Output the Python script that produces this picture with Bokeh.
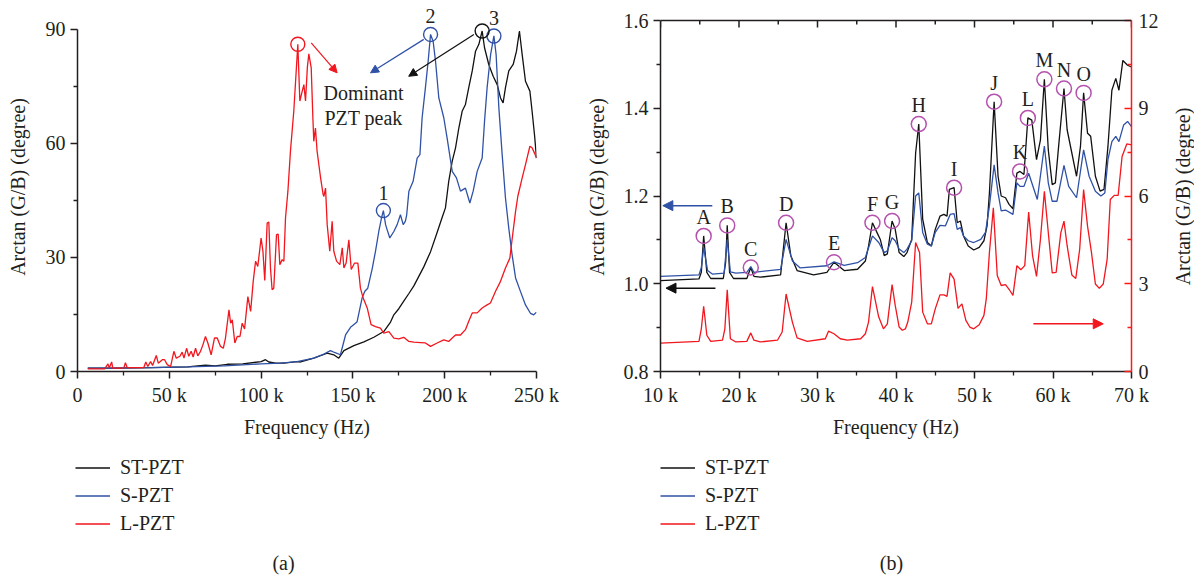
import math
from bokeh.plotting import figure
from bokeh.layouts import row, column
from bokeh.models import (Range1d, LinearAxis, FixedTicker, CustomJSTickFormatter,
                          Legend, LegendItem, Label, LabelSet, Arrow, NormalHead,
                          ColumnDataSource, Span)
from bokeh.embed import file_html
from bokeh.resources import INLINE

# ---------------- data: panel (a) ----------------
a_st_freq = [5.6, 20, 40, 60, 69.7, 75, 81.6, 90, 100, 102.4, 104.2, 108, 112.4, 119.6, 121.5,
             128.7, 136.0, 139.6, 142.3, 145.1, 150.5, 156.0, 161.4, 166.8, 170.5, 172.3, 175.0,
             177.7, 180.5, 183.2, 185.9, 188.6, 192.3, 195.5, 198.6, 200.4, 202.2, 204.1, 205.9,
             207.7, 209.5, 211.3, 213.1, 215.0, 216.8, 218.6, 220.4, 221.7, 224.0, 226.4, 228.6,
             230.4, 231.8, 233.1, 234.9, 237.3, 239.1, 240.7, 242.2, 244.0, 246.4, 247.6, 248.9, 250.0]
a_st_val = [0.9, 0.9, 1.0, 1.2, 1.7, 1.5, 1.9, 2.0, 2.6, 3.1, 2.5, 2.2, 2.2, 2.6, 2.5,
            3.5, 4.8, 4.4, 3.5, 5.5, 6.8, 7.8, 9.0, 10.5, 13.0, 14.9, 16.5,
            18.5, 20.5, 22.5, 25.0, 27.5, 31.5, 36.0, 40.5, 43.0, 50.0, 55.3, 58.8,
            64.0, 68.4, 70.2, 74.6, 79.0, 84.2, 86.0, 89.5, 85.1, 80.7, 77.6, 75.4,
            71.9, 70.6, 74.6, 79.0, 80.7, 84.2, 89.5, 83.3, 76.3, 73.7, 68.4, 62.3, 56.1]

a_s_freq = [5.6, 20, 40, 60, 80, 100, 110.6, 119.6, 128.7, 134.2, 137.8, 140, 143.2, 146.0, 148.7,
            151.4, 152.3, 155.0, 156.5, 158.1, 160.5, 162.3, 164.1, 165.6, 166.6, 167.8, 168.5,
            170.1, 172.3, 174.1, 175.9, 177.4, 178.6, 179.3, 180.5, 182.8, 185.0, 186.5, 187.7,
            189.5, 191.0, 192.3, 193.7, 195.0, 196.8, 199.5, 201.3, 204.1, 206.4, 208.6, 211.3,
            213.7, 215.5, 217.7, 220.4, 221.7, 223.1, 225.0, 226.8, 228.0, 229.5, 231.3, 233.1,
            234.9, 236.7, 238.6, 241.3, 244.0, 246.7, 248.5, 250.0]
a_s_val = [0.9, 0.9, 1.0, 1.2, 1.5, 2.0, 2.2, 2.6, 3.5, 4.6, 5.5, 5.0, 4.4, 9.6, 11.6,
           12.7, 13.1, 19.3, 21.1, 21.9, 27.0, 31.6, 36.8, 40.4, 42.3, 38.6, 37.5,
           35.1, 36.8, 38.6, 41.2, 38.6, 39.5, 41.2, 47.4, 50.0, 56.1, 57.0, 66.7,
           74.6, 81.6, 88.6, 86.8, 81.6, 71.9, 66.7, 61.4, 52.6, 50.9, 47.4, 48.2,
           44.3, 47.4, 52.6, 56.1, 65.8, 74.6, 83.3, 88.2, 83.3, 69.3, 57.0, 45.6,
           37.7, 30.7, 24.6, 21.0, 17.5, 15.3, 14.9, 15.6]

a_l_freq = [5.6, 10, 14.8, 16.6, 17.3, 18.6, 19.2, 25.2, 26.1, 27.1, 36.1, 37.2, 38.3, 39.8, 40.9,
            42.9, 44.0, 46.2, 47.4, 48.9, 50.7, 52.5, 53.8, 55.8, 57.0, 58.0, 59.4, 60.6, 61.9,
            63.0, 64.3, 65.5, 67.0, 68.3, 69.7, 71.0, 72.8, 74.6, 76.1, 77.9, 79.4, 80.6, 82.5,
            83.4, 84.3, 85.7, 87.0, 88.5, 89.7, 91.0, 92.8, 94.3, 95.7, 97.0, 98.2, 100.0, 101.0,
            102.0, 103.3, 104.2, 105.1, 106.0, 106.9, 108.4, 109.3, 110.2, 111.5, 112.4, 113.3,
            114.6, 116.0, 117.8, 119.0, 120.0, 121.1, 122.4, 123.3, 124.2, 125.2, 126.0, 127.3,
            128.2, 128.7, 129.6, 130.5, 132.4, 133.8, 134.2, 135.1, 136.0, 137.4, 138.7, 139.6,
            141.1, 142.9, 144.2, 145.1, 146.3, 147.8, 149.1, 150.9, 152.7, 154.1, 155.6, 157.8,
            159.9, 162.3, 165.0, 166.8, 169.6, 172.3, 175.0, 177.7, 180.5, 183.2, 186.8, 189.5,
            192.3, 195.9, 199.5, 202.2, 204.1, 205.9, 208.6, 211.3, 213.1, 215.0, 217.7, 220.4,
            223.1, 224.9, 227.7, 230.4, 233.1, 235.5, 236.8, 238.6, 239.8, 242.2, 244.0, 246.4,
            247.6, 248.9, 250.0]
a_l_val = [0.7, 0.7, 0.7, 2.0, 0.9, 2.5, 0.9, 0.9, 2.3, 1.0, 1.0, 2.5, 1.3, 2.6, 1.6,
           4.2, 2.2, 3.1, 3.1, 1.8, 1.3, 5.3, 3.5, 4.0, 5.1, 3.5, 6.1, 4.0, 5.3,
           3.8, 6.1, 4.1, 5.3, 7.0, 9.2, 7.5, 4.4, 8.8, 8.8, 6.6, 6.1, 8.8, 16.2,
           12.7, 13.6, 7.5, 9.2, 9.2, 12.7, 11.2, 19.7, 15.8, 23.7, 29.0, 27.6, 35.1, 31.6,
           23.9, 39.0, 39.3, 27.2, 21.5, 21.9, 36.0, 36.1, 28.1, 29.4, 29.0, 40.4,
           47.4, 58.0, 68.4, 78.0, 86.0, 71.1, 73.7, 75.4, 71.1, 80.0, 83.5, 79.8,
           66.7, 60.5, 64.0, 57.9, 50.9, 46.5, 46.0, 48.2, 38.6, 31.6, 39.5, 31.6,
           29.0, 28.1, 32.5, 27.2, 28.5, 34.6, 26.8, 28.5, 28.5, 21.9, 19.3, 16.7,
           12.3, 11.8, 11.4, 10.1, 10.5, 8.8, 8.6, 9.0, 7.9, 7.7, 7.6, 7.5,
           6.6, 7.5, 8.3, 7.9, 8.8, 9.6, 9.6, 11.0, 13.2, 15.4, 15.4, 16.7,
           17.5, 18.0, 21.1, 23.7, 27.2, 29.8, 35.1, 42.1, 46.0, 50.9, 54.4, 59.2,
           58.8, 57.4, 56.1]

a_x_ticks = [0, 50, 100, 150, 200, 250]
a_x_minor = [25, 75, 125, 175, 225]
a_y_ticks = [0, 30, 60, 90]
a_y_minor = [15, 45, 75]

a_l_marks = [120.0]
a_s_marks = [166.6, 192.3, 226.8]
a_s_mark_text = ["1", "2", "3"]
a_st_marks = [220.4]

# ---------------- data: panel (b) ----------------
b_st_freq = [10.0, 14.9, 15.2, 15.5, 15.9, 16.4, 18.0, 18.3, 18.5, 18.8, 19.3, 21.0, 21.5, 21.9,
             22.7, 25.3, 26.0, 26.6, 27.4, 29.5, 31.2, 32.1, 33.4, 35.1, 36.1, 36.5, 37.0, 37.6,
             38.0, 38.5, 38.9, 39.5, 39.9, 40.4, 41.0, 41.4, 42.0, 42.5, 42.9, 43.4, 44.0, 44.5,
             45.0, 45.6, 46.1, 46.5, 46.8, 47.4, 47.8, 48.2, 48.6, 49.2, 49.9, 50.6, 51.2, 51.6,
             51.9, 52.5, 53.0, 53.4, 53.95, 54.4, 54.9, 55.4, 55.8, 56.3, 56.8, 57.3, 57.9, 58.4,
             58.9, 59.4, 59.9, 60.3, 60.75, 61.4, 61.8, 62.4, 63.0, 63.5, 63.9, 64.4, 64.8, 65.4,
             66.0, 66.5, 67.0, 67.5, 68.0, 68.4, 68.9, 69.5, 70.0]
b_st_val = [1.007, 1.011, 1.026, 1.109, 1.026, 1.012, 1.012, 1.049, 1.133, 1.026, 1.012, 1.012, 1.037, 1.017,
            1.015, 1.02, 1.139, 1.064, 1.03, 1.02, 1.026, 1.049, 1.03, 1.033, 1.052, 1.086, 1.139, 1.116,
            1.101, 1.064, 1.068, 1.143, 1.124, 1.071, 1.062, 1.071, 1.101, 1.298, 1.364, 1.147, 1.094, 1.086,
            1.124, 1.154, 1.158, 1.154, 1.215, 1.219, 1.139, 1.143, 1.109, 1.086, 1.077, 1.083, 1.098, 1.132,
            1.207, 1.415, 1.245, 1.2, 1.196, 1.181, 1.171, 1.252, 1.256, 1.249, 1.378, 1.373, 1.283, 1.328,
            1.466, 1.305, 1.226, 1.23, 1.32, 1.445, 1.351, 1.298, 1.245, 1.313, 1.435, 1.343, 1.336, 1.245,
            1.211, 1.215, 1.313, 1.441, 1.468, 1.441, 1.509, 1.498, 1.494]

b_s_freq = [10.0, 14.9, 15.2, 15.5, 16.0, 16.6, 18.1, 18.5, 18.9, 19.6, 21.0, 21.5, 21.9, 25.3,
            26.0, 26.8, 27.8, 31.2, 32.1, 33.4, 35.1, 36.1, 37.0, 37.8, 38.5, 38.9, 39.5, 39.9,
            40.4, 41.0, 41.4, 42.0, 42.5, 42.9, 43.4, 44.0, 44.5, 45.0, 45.6, 46.3, 46.9, 47.4,
            47.8, 48.2, 48.6, 49.2, 49.9, 50.8, 51.4, 51.9, 52.5, 53.0, 53.4, 53.95, 54.9, 55.4,
            55.8, 56.3, 56.9, 58.0, 58.9, 59.4, 59.9, 60.5, 61.4, 62.0, 63.0, 63.9, 64.6, 65.4,
            66.1, 66.6, 67.0, 67.5, 68.0, 68.4, 69.0, 69.5, 70.0]
b_s_val = [1.017, 1.02, 1.037, 1.083, 1.03, 1.022, 1.024, 1.101, 1.027, 1.024, 1.026, 1.039, 1.026, 1.033,
           1.101, 1.052, 1.036, 1.041, 1.05, 1.042, 1.048, 1.06, 1.109, 1.094, 1.071, 1.075, 1.105, 1.098,
           1.079, 1.071, 1.079, 1.098, 1.2, 1.207, 1.117, 1.09, 1.086, 1.117, 1.133, 1.132, 1.158, 1.16,
           1.124, 1.128, 1.109, 1.098, 1.094, 1.101, 1.117, 1.177, 1.271, 1.207, 1.166, 1.168, 1.158, 1.23,
           1.222, 1.222, 1.252, 1.192, 1.314, 1.23, 1.188, 1.188, 1.27, 1.222, 1.196, 1.305, 1.245, 1.211,
           1.2, 1.207, 1.283, 1.324, 1.336, 1.324, 1.362, 1.37, 1.358]

b_l_freq = [10.0, 14.9, 15.2, 15.5, 15.9, 16.4, 17.9, 18.2, 18.5, 18.9, 19.6, 21.0, 21.5, 21.9,
            22.7, 24.9, 25.5, 26.0, 26.8, 27.4, 28.7, 31.0, 31.4, 32.1, 32.9, 33.8, 35.5, 36.1,
            36.5, 37.0, 37.8, 38.4, 38.9, 39.5, 39.9, 40.4, 40.8, 41.2, 41.5, 42.0, 42.5, 43.0,
            43.4, 44.0, 44.5, 45.0, 45.6, 46.1, 46.5, 46.9, 47.4, 47.9, 48.4, 48.9, 49.4, 49.9,
            50.6, 51.2, 51.5, 51.9, 52.4, 52.9, 53.4, 53.95, 54.5, 54.9, 55.4, 55.9, 56.4, 56.9,
            57.4, 57.9, 58.4, 58.9, 59.4, 59.9, 60.4, 61.0, 61.4, 61.8, 62.4, 62.9, 63.4, 63.9,
            64.4, 64.9, 65.4, 65.9, 66.4, 66.9, 67.3, 67.8, 68.3, 68.8, 69.4, 70.0]
b_l_val = [0.97, 1.03, 1.46, 2.23, 1.24, 1.03, 1.07, 1.46, 2.79, 1.12, 1.01, 1.03, 1.32, 1.07,
           1.01, 1.07, 1.35, 2.65, 1.69, 1.15, 1.03, 1.12, 1.38, 1.29, 1.12, 1.07, 1.12, 1.29,
           1.69, 2.9, 1.86, 1.46, 1.63, 2.97, 2.26, 1.52, 1.41, 1.46, 1.69, 2.37, 4.41, 4.07,
           2.03, 1.63, 1.63, 2.14, 2.62, 2.62, 2.57, 3.37, 3.16, 2.16, 2.31, 1.75, 1.52, 1.46,
           1.6, 1.92, 2.48, 4.07, 5.6, 3.28, 2.94, 2.97, 2.77, 2.6, 3.62, 3.48, 3.62, 5.45,
           3.95, 3.25, 4.52, 6.16, 4.75, 3.37, 3.39, 4.75, 5.14, 4.3, 3.3, 3.18, 4.18, 6.22,
           4.97, 4.07, 2.99, 2.84, 2.99, 3.84, 5.88, 6.02, 6.02, 7.35, 7.78, 7.75]

b_peak_freq = [15.5, 18.5, 21.5, 26.0, 32.1, 37.0, 39.5, 42.9, 47.4, 52.5, 55.8, 56.8, 58.9, 61.4, 63.9]
b_peak_text = ["A", "B", "C", "D", "E", "F", "G", "H", "I", "J", "K", "L", "M", "N", "O"]

b_x_ticks = [10, 20, 30, 40, 50, 60, 70]
b_x_minor = [15, 25, 35, 45, 55, 65]
b_y_ticks = [0.8, 1.0, 1.2, 1.4, 1.6]
b_y_minor = [0.9, 1.1, 1.3, 1.5]
b_r_ticks = [0, 3, 6, 9, 12]
b_r_minor = [1.5, 4.5, 7.5, 10.5]

series_names = ["ST-PZT", "S-PZT", "L-PZT"]
captions = ["(a)", "(b)"]
y_title = "Arctan (G/B) (degree)"
x_title = "Frequency (Hz)"

# ---------------- styles / layout constants ----------------
FONT = "Liberation Serif"
TXT = "#231f20"
C_BLACK = "#111111"
C_BLUE = "#2f51a6"
C_RED = "#f2161e"
C_AXR = "#ff1a1a"
C_MAG = "#b452ad"
FS = "20px"
SERIES_COLORS = [C_BLACK, C_BLUE, C_RED]

TOP_H = 445
BOT_H = 576 - TOP_H
FRAME_TOP = 2          # shared frame top (pixels)
FRAME_BOT = 371        # shared frame bottom (pixels)
FRAME_H = FRAME_BOT - FRAME_TOP

A_SCALE = (FRAME_BOT - 28.6) / 90.0
A_YEND = FRAME_H / A_SCALE
B_SCALE = (FRAME_BOT - 20.0) / 0.8
B_YEND = 0.8 + FRAME_H / B_SCALE
R_YEND = 12.0 * FRAME_H / (FRAME_BOT - 20.0)

W1, W2, W3 = 580, 590, 24


def style_axis(ax, inward=False, color=TXT):
    ax.axis_line_color = color
    ax.axis_line_width = 1.5
    ax.major_tick_line_color = color
    ax.minor_tick_line_color = color
    ax.major_tick_line_width = 1.5
    ax.minor_tick_line_width = 1.3
    if inward:
        ax.major_tick_in, ax.major_tick_out = 7, 0
        ax.minor_tick_in, ax.minor_tick_out = 4, 0
    else:
        ax.major_tick_in, ax.major_tick_out = 0, 7
        ax.minor_tick_in, ax.minor_tick_out = 0, 4
    ax.major_label_text_font = FONT
    ax.major_label_text_font_size = FS
    ax.major_label_text_color = TXT
    ax.axis_label_text_font = FONT
    ax.axis_label_text_font_size = FS
    ax.axis_label_text_font_style = "normal"
    ax.axis_label_text_color = TXT


def lookup(xs, ys, marks):
    d = dict(zip(xs, ys))
    return [d[m] for m in marks]


def text_label(p, x, y, text, **kw):
    lab = Label(x=x, y=y, text=text, text_font=FONT, text_font_size=FS, text_color=TXT,
                text_align="center", text_baseline="middle", **kw)
    p.add_layout(lab)


k_fmt = CustomJSTickFormatter(code="return tick == 0 ? '0' : tick.toFixed(0) + ' k';")

# ---------------- panel (a) ----------------
p1 = figure(width=W1, height=TOP_H, output_backend="svg", toolbar_location=None,
            x_range=Range1d(0, 250), y_range=Range1d(0, A_YEND),
            min_border_left=77, min_border_right=44, min_border_top=FRAME_TOP,
            min_border_bottom=TOP_H - FRAME_BOT)
p1.outline_line_color = None
p1.grid.visible = False
p1.background_fill_color = None

p1.xaxis.ticker = FixedTicker(ticks=a_x_ticks, minor_ticks=a_x_minor)
p1.xaxis.formatter = k_fmt
p1.yaxis.ticker = FixedTicker(ticks=a_y_ticks, minor_ticks=a_y_minor)
p1.yaxis.bounds = (a_y_ticks[0], a_y_ticks[-1])
p1.xaxis.axis_label = x_title
p1.yaxis.axis_label = y_title
for ax in list(p1.xaxis) + list(p1.yaxis):
    style_axis(ax)
p1.xaxis.axis_label_standoff = 7
p1.yaxis.axis_label_standoff = 14

ra_st = p1.line(a_st_freq, a_st_val, line_color=C_BLACK, line_width=1.3)
ra_s = p1.line(a_s_freq, a_s_val, line_color=C_BLUE, line_width=1.3)
ra_l = p1.line(a_l_freq, a_l_val, line_color=C_RED, line_width=1.3)

p1.scatter(a_l_marks, lookup(a_l_freq, a_l_val, a_l_marks), marker="circle", size=14,
           fill_color=None, line_color=C_RED, line_width=1.4)
p1.scatter(a_s_marks, lookup(a_s_freq, a_s_val, a_s_marks), marker="circle", size=14,
           fill_color=None, line_color=C_BLUE, line_width=1.4)
p1.scatter(a_st_marks, lookup(a_st_freq, a_st_val, a_st_marks), marker="circle", size=14,
           fill_color=None, line_color=C_BLACK, line_width=1.4)

src_a = ColumnDataSource(dict(x=a_s_marks, y=lookup(a_s_freq, a_s_val, a_s_marks), t=a_s_mark_text))
p1.add_layout(LabelSet(x="x", y="y", text="t", source=src_a, y_offset=18,
                       text_font=FONT, text_font_size=FS, text_color=TXT,
                       text_align="center", text_baseline="middle"))

for (x0, y0, x1, y1, c) in [(127.3, 86.4, 141.4, 78.5, C_RED),
                             (188.6, 87.3, 159.6, 78.5, C_BLUE),
                             (215.9, 88.6, 180.4, 77.6, C_BLACK)]:
    p1.add_layout(Arrow(end=NormalHead(size=8, fill_color=c, line_color=c),
                        x_start=x0, y_start=y0, x_end=x1, y_end=y1,
                        line_color=c, line_width=1.2))

text_label(p1, 155.8, 73.2, "Dominant")
text_label(p1, 155.8, 66.6, "PZT peak")

# ---------------- panel (b) ----------------
p2 = figure(width=W2, height=TOP_H, output_backend="svg", toolbar_location=None,
            x_range=Range1d(10, 70), y_range=Range1d(0.8, B_YEND),
            min_border_left=80, min_border_right=W2 - 80 - 471, min_border_top=FRAME_TOP,
            min_border_bottom=TOP_H - FRAME_BOT)
p2.outline_line_color = None
p2.grid.visible = False
p2.background_fill_color = None
p2.extra_y_ranges = {"r": Range1d(0, R_YEND)}

p2.xaxis.ticker = FixedTicker(ticks=b_x_ticks, minor_ticks=b_x_minor)
p2.xaxis.formatter = k_fmt
p2.yaxis.ticker = FixedTicker(ticks=b_y_ticks, minor_ticks=b_y_minor)
p2.yaxis.formatter = CustomJSTickFormatter(code="return tick.toFixed(1);")
p2.yaxis.bounds = (b_y_ticks[0], b_y_ticks[-1])
p2.xaxis.axis_label = x_title
p2.yaxis.axis_label = y_title
for ax in list(p2.xaxis) + list(p2.yaxis):
    style_axis(ax)
p2.xaxis.axis_label_standoff = 7
p2.yaxis.axis_label_standoff = 13

ax_r = LinearAxis(y_range_name="r", ticker=FixedTicker(ticks=b_r_ticks, minor_ticks=b_r_minor),
                  bounds=(b_r_ticks[0], b_r_ticks[-1]))
style_axis(ax_r, inward=True, color=C_AXR)
ax_r.major_label_text_color = TXT
ax_r.major_label_standoff = 7
p2.add_layout(ax_r, "right")

# top border of the box at 1.6 with inward ticks
y_top = b_y_ticks[-1]
p2.add_layout(Span(location=y_top, dimension="width", line_color=TXT, line_width=1.5))
top_x = b_x_ticks + b_x_minor
top_len = [7.0 / B_SCALE] * len(b_x_ticks) + [4.0 / B_SCALE] * len(b_x_minor)
p2.segment(x0=top_x, y0=[y_top] * len(top_x), x1=top_x,
           y1=[y_top - L for L in top_len], line_color=TXT, line_width=1.5)

rb_st = p2.line(b_st_freq, b_st_val, line_color=C_BLACK, line_width=1.3)
rb_s = p2.line(b_s_freq, b_s_val, line_color=C_BLUE, line_width=1.3)
rb_l = p2.line(b_l_freq, b_l_val, line_color=C_RED, line_width=1.3, y_range_name="r")

peak_y = lookup(b_st_freq, b_st_val, b_peak_freq)
p2.scatter(b_peak_freq, peak_y, marker="circle", size=15, fill_color=None,
           line_color=C_MAG, line_width=1.5)
src_b = ColumnDataSource(dict(x=b_peak_freq, y=peak_y, t=b_peak_text))
p2.add_layout(LabelSet(x="x", y="y", text="t", source=src_b, y_offset=19,
                       text_font=FONT, text_font_size=FS, text_color=TXT,
                       text_align="center", text_baseline="middle"))

p2.add_layout(Arrow(end=NormalHead(size=10, fill_color=C_BLUE, line_color=C_BLUE),
                    x_start=16.6, y_start=1.178, x_end=10.3, y_end=1.178,
                    line_color=C_BLUE, line_width=1.5))
p2.add_layout(Arrow(end=NormalHead(size=10, fill_color=C_BLACK, line_color=C_BLACK),
                    x_start=17.0, y_start=0.99, x_end=10.7, y_end=0.99,
                    line_color=C_BLACK, line_width=1.5))
p2.add_layout(Arrow(end=NormalHead(size=10, fill_color=C_RED, line_color=C_RED),
                    x_start=57.5, y_start=1.63, x_end=66.4, y_end=1.63, y_range_name="r",
                    line_color=C_RED, line_width=1.5))

# ---------------- right-axis title strip ----------------
p3 = figure(width=W3, height=TOP_H, output_backend="svg", toolbar_location=None,
            x_range=Range1d(0, 1), y_range=Range1d(FRAME_BOT, FRAME_TOP),
            x_axis_type=None, y_axis_type=None,
            min_border_left=0, min_border_right=0, min_border_top=FRAME_TOP,
            min_border_bottom=TOP_H - FRAME_BOT)
p3.outline_line_color = None
p3.grid.visible = False
p3.add_layout(Label(x=0.5, y=196, text=y_title, angle=math.pi / 2,
                    text_font=FONT, text_font_size=FS, text_color=TXT,
                    text_align="center", text_baseline="middle"))


# ---------------- legend / caption strips (pixel coordinates) ----------------
def legend_strip(width, legend_x, caption, caption_x):
    q = figure(width=width, height=BOT_H, output_backend="svg", toolbar_location=None,
               x_range=Range1d(0, width), y_range=Range1d(576, TOP_H),
               x_axis_type=None, y_axis_type=None, min_border=0)
    q.outline_line_color = None
    q.grid.visible = False
    rs = [q.line([math.nan], [math.nan], line_color=c, line_width=1.5) for c in SERIES_COLORS]
    items = [LegendItem(label=n, renderers=[r]) for n, r in zip(series_names, rs)]
    lg = Legend(items=items, location=(legend_x, BOT_H - 9.5 - 81), orientation="vertical",
                label_text_font=FONT, label_text_font_size=FS, label_text_color=TXT,
                glyph_width=35, glyph_height=25, label_height=25, label_standoff=10,
                spacing=3, padding=0, margin=0,
                border_line_alpha=0, background_fill_alpha=0)
    q.add_layout(lg)
    text_label(q, caption_x, 562, caption)
    return q


q1 = legend_strip(W1, 75, captions[0], 283)
q2 = legend_strip(W2 + W3, 80, captions[1], 311)

layout = column(row(p1, p2, p3), row(q1, q2))
open("out.html", "w").write(file_html(layout, INLINE))
